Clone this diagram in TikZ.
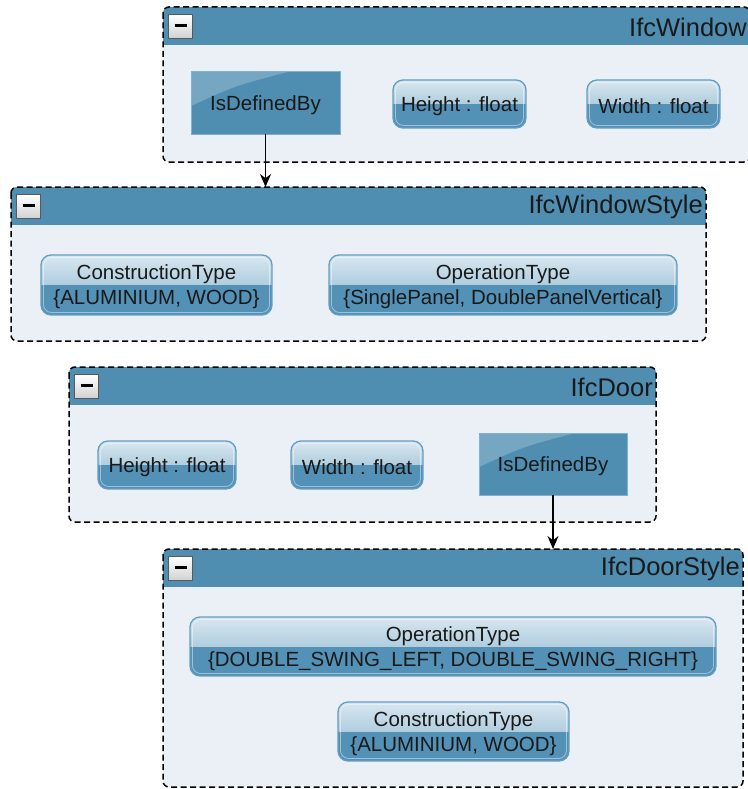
\documentclass[tikz,border=0pt]{standalone}
\usepackage{fontspec}
\setmainfont{Liberation Sans}
\usetikzlibrary{fit,calc,arrows.meta}
\definecolor{hdr}{RGB}{79,141,177}
\definecolor{bgc}{RGB}{234,240,245}
\definecolor{pbot}{RGB}{84,145,182}
\definecolor{ptop}{RGB}{216,231,240}
\definecolor{pmid}{RGB}{176,205,222}
\definecolor{pbrd}{RGB}{98,158,196}
\definecolor{txt}{RGB}{25,25,25}
\tikzset{
  boxarea/.style={inner sep=0pt, outer sep=0pt},
  ctrborder/.style={draw=black, line width=1.5pt, dash pattern=on 6pt off 3.5pt, rounded corners=6pt},
  ctrtitle/.style={font=\fontsize{25.5}{28}\selectfont, text=txt, inner sep=0pt, anchor=east},
  btn/.style={draw=black!65, line width=1pt, top color=white, bottom color=black!18, minimum size=24pt, inner sep=0pt, anchor=north west},
  bodytext/.style={font=\fontsize{20.5}{25}\selectfont, text=txt, align=center, inner sep=0pt},
  link/.style={draw=black, line width=1.5pt, -{Stealth[length=13pt,width=11pt]}}
}
\newcommand\ctr[6]{%
  \node[boxarea, fit={(#2,#3) (#4,#5)}] (#1) {};
  \fill[bgc, rounded corners=6pt] (#1.north west) rectangle (#1.south east);
  \begin{scope}
    \clip[rounded corners=6pt] (#1.north west) rectangle (#1.south east);
    \fill[hdr] (#1.north west) rectangle ([yshift=-38pt]#1.north east);
  \end{scope}
  \draw[ctrborder] (#1.north west) rectangle (#1.south east);
  \node[ctrtitle] (#1t) at ([xshift=-3pt,yshift=-20pt]#1.north east) {#6};
  \node[btn] (#1b) at ([xshift=5pt,yshift=-7pt]#1.north west) {};
  \draw[black, line width=3pt] ([xshift=-6pt,yshift=1pt]#1b.center) -- ([xshift=6pt,yshift=1pt]#1b.center);
}
\newcommand\pill[6]{%
  \node[boxarea, fit={(#2,#3) (#4,#5)}] (#1) {};
  \begin{scope}
    \clip[rounded corners=10pt] (#1.north west) rectangle (#1.south east);
    \shade[top color=ptop, bottom color=pmid] (#1.north west) rectangle (#1.east);
    \fill[pbot] (#1.west) rectangle (#1.south east);
  \end{scope}
  \draw[pbrd, line width=1.3pt, rounded corners=10pt] (#1.north west) rectangle (#1.south east);
  \draw[white, opacity=.45, line width=.8pt, rounded corners=8pt] ([shift={(2.5pt,-2.5pt)}]#1.north west) rectangle ([shift={(-2.5pt,2.5pt)}]#1.south east);
  \node[bodytext] (#1x) at ([yshift=-2pt]#1.center) {#6};
}
\newcommand\idb[5]{%
  \node[boxarea, fit={(#2,#3) (#4,#5)}] (#1) {};
  \fill[hdr] (#1.north west) rectangle (#1.south east);
  \fill[white, opacity=.22] (#1.north west) -- ($(#1.north west)!0.65!(#1.north east)$)
     .. controls ($(#1.north west)!0.45!(#1.center)+(10pt,0)$) .. ($(#1.north west)!0.55!(#1.south west)$) -- cycle;
  \draw[pbrd!80!white, line width=1pt] (#1.north west) rectangle (#1.south east);
  \node[bodytext] (#1x) at ([yshift=-2pt]#1.center) {IsDefinedBy};
}
\begin{document}
\begin{tikzpicture}[x=1pt,y=-1pt]
\useasboundingbox (0,0) rectangle (747,789);
\fill[white] (0,0) rectangle (747,789);

% IfcWindow
\ctr{win}{163}{7}{750}{162}{IfcWindow}
\idb{winidb}{191}{72}{340}{134}
\pill{winh}{393}{80}{526}{128}{Height : float}
\pill{winw}{587}{80}{720}{128}{Width : float}

% IfcWindowStyle
\ctr{ws}{11}{187}{706}{341}{IfcWindowStyle}
\pill{wsct}{41}{255}{272}{315}{ConstructionType\\\{ALUMINIUM, WOOD\}}
\pill{wsot}{329}{255}{677}{315}{OperationType\\\{SinglePanel, DoublePanelVertical\}}

% IfcDoor
\ctr{dr}{69}{367}{656}{522}{IfcDoor}
\pill{drh}{98}{441}{236}{489}{Height : float}
\pill{drw}{291}{441}{423}{489}{Width : float}
\idb{dridb}{479}{433}{627}{495}

% IfcDoorStyle
\ctr{ds}{163}{549}{743}{787}{IfcDoorStyle}
\pill{dsot}{190}{617}{716}{676}{OperationType\\\{DOUBLE\_SWING\_LEFT, DOUBLE\_SWING\_RIGHT\}}
\pill{dsct}{338}{702}{569}{761}{ConstructionType\\\{ALUMINIUM, WOOD\}}

% connectors
\draw[link] (winidb.south) -- (winidb.south |- ws.north);
\draw[link] (dridb.south) -- (dridb.south |- ds.north);
\end{tikzpicture}
\end{document}
